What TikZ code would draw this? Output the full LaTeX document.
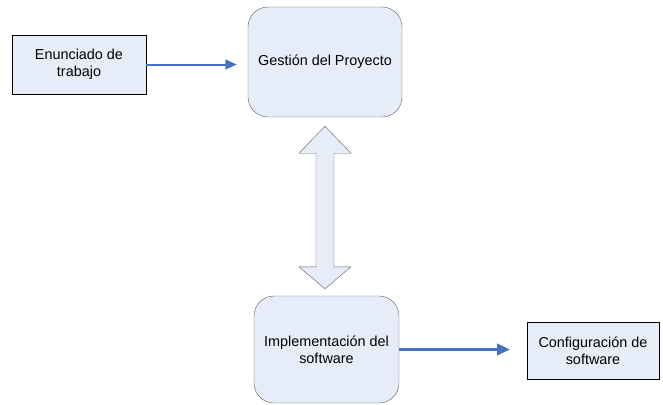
\documentclass[tikz,border=0pt]{standalone}
\usepackage{fontspec}
\setmainfont{Liberation Sans}
\usepackage{tikz}
\usetikzlibrary{arrows.meta,calc}
\definecolor{gpfill}{RGB}{231,237,248}
\definecolor{gpblue}{RGB}{70,114,196}
\definecolor{gpgray}{RGB}{95,95,95}
\tikzset{
  gpbox/.style={draw=black, fill=gpfill, align=center, inner sep=3pt},
  gpround/.style={draw=gpgray, fill=gpfill, rounded corners=20pt, align=center, inner sep=3pt},
  gparr/.style={-{Triangle[length=4mm,width=3.4mm]}, line width=2pt, draw=gpblue},
  gparrbig/.style={-{Triangle[length=4.5mm,width=4mm]}, line width=2.8pt, draw=gpblue},
  gpdouble/.style={draw=gpgray, fill=gpfill, line join=miter}
}

\begin{document}
\begin{tikzpicture}[x=1pt, y=-1pt, font=\fontsize{14.4}{17}\selectfont]
  \useasboundingbox (0,0) rectangle (663,404);
  \node[gpbox, minimum width=134pt, minimum height=59pt] (enun) at (79,64.5) {Enunciado de\\trabajo};
  \node[gpround, minimum width=154pt, minimum height=110pt] (gest) at (325,62) {Gestión del Proyecto};
  \node[gpround, minimum width=145pt, minimum height=107pt] (impl) at (326.5,349.5) {Implementación del\\software};
  \node[gpbox, minimum width=132pt, minimum height=57pt] (conf) at (593,350.5) {Configuración de\\software};
  \coordinate (enunend) at ($(gest.west)+(-11,0)$);
  \coordinate (implend) at ($(conf.west)+(-17,0)$);
  \draw[gparr] (enun.east) -- (enun.east -| enunend);
  \draw[gparrbig] (impl.east) -- (impl.east -| implend);
  % double arrow between the two phases
  \coordinate (dtop) at ($(gest.south)+(0,9)$);
  \coordinate (dbot) at ($(impl.north)+(-1.5,-7)$);
  \draw[gpdouble] (dtop) -- ++(26,27) -- ++(-17,0) -- ($(dbot)+(9,-22)$) -- ++(17,0)
    -- (dbot) -- ++(-26,-22) -- ++(17,0) -- ($(dtop)+(-9,27)$) -- ++(-17,0) -- cycle;
\end{tikzpicture}
\end{document}
